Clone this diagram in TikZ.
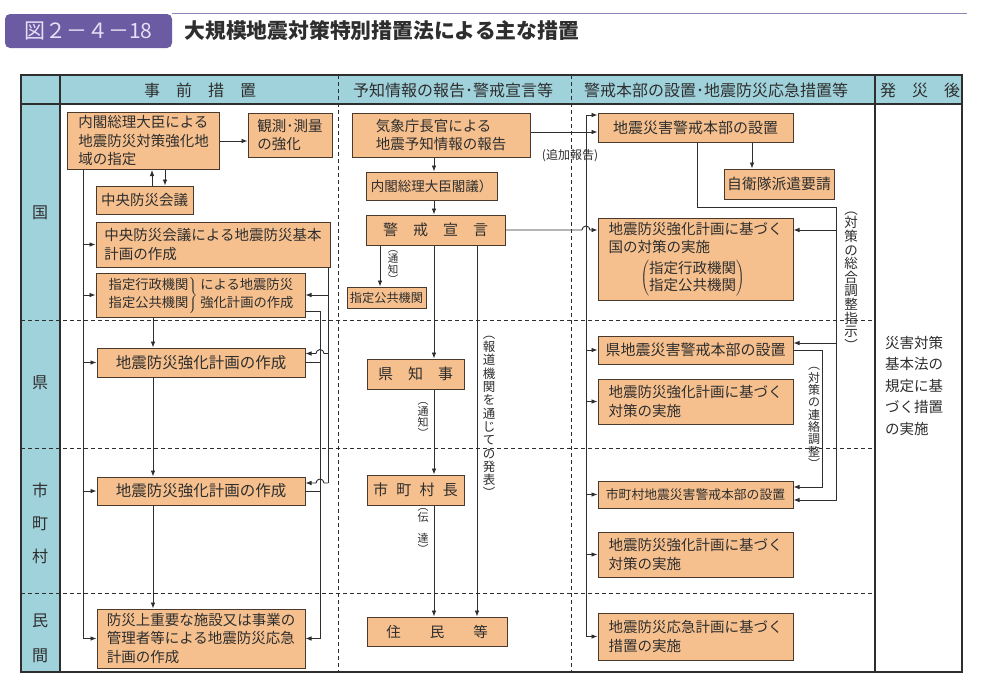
\documentclass[tikz,border=0pt]{standalone}
\usepackage{fontspec}
\setmainfont{Noto Sans CJK JP}
\usepackage{tikz}
\usetikzlibrary{
    positioning,      % relative placement
    arrows.meta,      % arrow tips
    calc              % coordinate offsets
}
\definecolor{boxfill}{HTML}{F6C08E}
\definecolor{boxline}{HTML}{4A3A2E}
\definecolor{headfill}{HTML}{A0D2DC}
\definecolor{titlefill}{HTML}{6B5BA3}
\definecolor{titletext}{HTML}{E6E0F6}
\definecolor{ink}{HTML}{2E2E2E}
\definecolor{titlerule}{HTML}{8C84B4}

\begin{document}
\begin{tikzpicture}[
        x=1pt, y=-1pt,
        box/.style={
            rectangle,
            draw=boxline,
            fill=boxfill,
            line width=1pt,
            inner sep=0pt,
            align=left,
            text=ink,
            font=\fontsize{14.5}{18.5}\selectfont
        },
        arrow/.style={
            -{Latex[length=6pt,width=4.6pt]},
            line width=0.9pt,
            draw=ink
        },
        wire/.style={
            line width=0.9pt,
            draw=ink
        },
        vlabel/.style={
            align=center,
            inner sep=0pt,
            text=ink,
            font=\fontsize{12.5}{13.3}\selectfont
        },
        headtext/.style={text=ink, font=\fontsize{16}{18}\selectfont},
        sidetext/.style={align=center, text=ink, font=\fontsize{16}{33}\selectfont},
        rowline/.style={line width=0.8pt, draw=ink, dash pattern=on 4pt off 3pt}
    ]
    \fill[white] (0,0) rectangle (997,694);
    \useasboundingbox (0,0) rectangle (997,694);

    % 表題
    \node[fill=titlefill, rounded corners=5pt, minimum width=167pt, minimum height=34pt,
        text=titletext, font=\fontsize{21}{24}\selectfont] (zuban) at (88.5,31) {図２－４－18};
    \draw[titlerule, line width=1.2pt] (zuban.north east) -- ++(795,0);
    \node[anchor=west, text=ink, font=\fontsize{20.8}{24}\selectfont\bfseries] (daimei) at (181,31)
        {大規模地震対策特別措置法による主な措置};

    % 表の枠
    \fill[headfill] (21,75) rectangle (962,104);
    \fill[headfill] (21,104) rectangle (60,672);
    \draw[rowline] (21,320) -- (875,320);
    \draw[rowline] (21,448) -- (875,448);
    \draw[rowline] (21,593) -- (875,593);
    \draw[rowline] (338,75) -- (338,672);
    \draw[rowline] (571,75) -- (571,672);
    \draw[wire, line width=1.1pt] (21,104) -- (962,104);
    \draw[wire, line width=1.1pt] (60,75) -- (60,672);
    \draw[wire, line width=1.1pt] (875,75) -- (875,672);
    \draw[line width=2.6pt, draw=ink] (21,75) rectangle (962,672);

    % 見出し
    \node[headtext] (head1) at (200,90) {事　前　措　置};
    \node[headtext] (head2) at (453,90) {予知情報の報告･警戒宣言等};
    \node[headtext] (head3) at (716,90) {警戒本部の設置･地震防災応急措置等};
    \node[headtext] (head4) at (920,90) {発　災　後};

    \node[sidetext] (kunilabel) at (40,213) {国};
    \node[sidetext] (kenlabel) at (40,383) {県};
    \node[sidetext] (shilabel) at (40,523) {市\\町\\村};
    \node[sidetext, font=\fontsize{16}{35}\selectfont] (minlabel) at (40,638.5) {民\\間};

    % 事前措置
    \node[box, minimum width=152pt, minimum height=57pt] (shitei) at (143.5,141)
        {内閣総理大臣による\\地震防災対策強化地\\域の指定};
    \node[box, minimum width=84pt, minimum height=44pt] (kansoku) at (290,135) {観測･測量\\の強化};
    \node[box, minimum width=97pt, minimum height=28pt] (chuo) at (144.5,200) {中央防災会議};
    \node[box, minimum width=234pt, minimum height=45pt] (kihon) at (213,244.5)
        {中央防災会議による地震防災基本\\計画の作成};
    \node[box, minimum width=209pt, minimum height=44pt, font=\fontsize{13.3}{18}\selectfont] (kyoka) at (200.5,295)
        {$\left.\begin{tabular}{@{}l@{}}指定行政機関\\指定公共機関\end{tabular}\right\}$\hspace{3pt}\begin{tabular}{@{}l@{}}による地震防災\\強化計画の作成\end{tabular}};
    \node[box, minimum width=208pt, minimum height=29pt, align=center, font=\fontsize{15.5}{18}\selectfont] (kenplan) at (201,362.5)
        {地震防災強化計画の作成};
    \node[box, minimum width=208pt, minimum height=28pt, align=center, font=\fontsize{15.5}{18}\selectfont] (shiplan) at (201,491)
        {地震防災強化計画の作成};
    \node[box, minimum width=208pt, minimum height=59pt] (minplan) at (201,638.5)
        {防災上重要な施設又は事業の\\管理者等による地震防災応急\\計画の作成};

    % 予知情報の報告・警戒宣言
    \node[box, minimum width=178pt, minimum height=44pt] (kishocho) at (441,135) {気象庁長官による\\地震予知情報の報告};
    \node[box, minimum width=131pt, minimum height=28pt, font=\fontsize{13.5}{16}\selectfont] (kakugi) at (431.5,186) {内閣総理大臣閣議）};
    \node[box, minimum width=139pt, minimum height=30pt, font=\fontsize{15}{18}\selectfont] (keikai) at (435.5,230) {警　戒　宣　言};
    \node[box, minimum width=79pt, minimum height=21pt, font=\fontsize{12.2}{14}\selectfont] (koukyo) at (386.5,297.5) {指定公共機関};
    \node[box, minimum width=97pt, minimum height=30pt, font=\fontsize{15}{18}\selectfont] (chiji) at (415.5,374) {県　知　事};
    \node[box, minimum width=97pt, minimum height=30pt, font=\fontsize{15}{18}\selectfont] (chocho) at (415.5,490)
        {市\hspace{0.55em}町\hspace{0.55em}村\hspace{0.55em}長};
    \node[box, minimum width=140pt, minimum height=29pt] (jumin) at (437,631.5) {住　　民　　等};

    % 警戒本部・応急措置
    \node[box, minimum width=195pt, minimum height=29pt, font=\fontsize{15}{18}\selectfont] (honbu) at (695.5,127.5) {地震災害警戒本部の設置};
    \node[box, minimum width=110pt, minimum height=30pt, font=\fontsize{14.8}{18}\selectfont] (jieitai) at (779,184) {自衛隊派遣要請};
    \node[box, minimum width=195pt, minimum height=82pt] (kuni) at (695.5,259)
        {地震防災強化計画に基づく\\国の対策の実施\\[5pt]\hspace*{2.2em}{\def\arraystretch{0.88}$\left(\begin{tabular}{@{}l@{}}指定行政機関\\指定公共機関\end{tabular}\right)$}};
    \node[box, minimum width=195pt, minimum height=28pt, font=\fontsize{15}{18}\selectfont] (kenhonbu) at (695.5,350) {県地震災害警戒本部の設置};
    \node[box, minimum width=195pt, minimum height=45pt] (kenjisshi) at (695.5,401.5) {地震防災強化計画に基づく\\対策の実施};
    \node[box, minimum width=195pt, minimum height=27pt, font=\fontsize{12.8}{16}\selectfont] (shihonbu) at (695.5,494.5) {市町村地震災害警戒本部の設置};
    \node[box, minimum width=195pt, minimum height=45pt] (shijisshi) at (695.5,554.5) {地震防災強化計画に基づく\\対策の実施};
    \node[box, minimum width=195pt, minimum height=47pt] (minjisshi) at (695.5,636.5) {地震防災応急計画に基づく\\措置の実施};

    % 発災後
    \node[anchor=north west, align=left, inner sep=0pt, text=ink, font=\fontsize{14.5}{21.5}\selectfont] (hassai) at (885,336)
        {災害対策\\基本法の\\規定に基\\づく措置\\の実施};

    % 配線の位置
    \coordinate (lbus) at (83,0);
    \coordinate (lchain) at (153,0);
    \coordinate (hl) at (320,0);
    \coordinate (dl) at (328,0);
    \coordinate (spine) at (434,0);
    \coordinate (tuchi) at (380,0);
    \coordinate (hodo) at (477,0);
    \coordinate (bus) at (586,0);
    \coordinate (honbuout) at (697,0);
    \coordinate (jiei) at (752,0);
    \coordinate (renraku) at (822,0);
    \coordinate (sogo) at (836,207);

    % 事前措置の矢印
    \draw[arrow] (shitei.east) -- (shitei.east -| kansoku.west);
    \draw[arrow] ($(chuo.north)+(7.5,0)$) -- ($(chuo.north |- shitei.south)+(7.5,0)$);
    \draw[arrow] ($(chuo.north |- shitei.south)+(20.5,0)$) -- ($(chuo.north)+(20.5,0)$);
    \draw[wire] (shitei.south -| lbus) -- (lbus |- minplan.west);
    \draw[arrow] (lbus |- kihon.west) -- (kihon.west);
    \draw[arrow] (lbus |- kyoka.west) -- (kyoka.west);
    \draw[arrow] (lbus |- kenplan.west) -- (kenplan.west);
    \draw[arrow] (lbus |- shiplan.west) -- (shiplan.west);
    \draw[arrow] (lbus |- minplan.west) -- (minplan.west);
    \draw[arrow] (kyoka.south -| lchain) -- (kenplan.north -| lchain);
    \draw[arrow] (kenplan.south -| lchain) -- (shiplan.north -| lchain);
    \draw[arrow] (shiplan.south -| lchain) -- (minplan.north -| lchain);
    \draw[arrow] (kihon.south -| dl) |- (kyoka.east);
    \draw[wire] (kyoka.east -| dl) -- ($(shiplan.east -| dl)+(0,-8)$);
    \draw[arrow] ($(kenplan.east -| dl)+(0,-9)$) -- ($(kenplan.east -| hl)+(4,-9)$)
        arc[start angle=0, end angle=180, radius=4pt] -- ($(kenplan.east)+(0,-9)$);
    \draw[arrow] ($(shiplan.east -| dl)+(0,-8)$) -- ($(shiplan.east -| hl)+(4,-8)$)
        arc[start angle=0, end angle=180, radius=4pt] -- ($(shiplan.east)+(0,-8)$);
    \draw[arrow] ($(kyoka.east)+(0,16)$) -| (hl |- minplan.east) -- (minplan.east);
    \draw[wire] (kenplan.east) -- (kenplan.east -| hl);
    \draw[wire] (shiplan.east) -- (shiplan.east -| hl);

    % 予知情報・警戒宣言の矢印
    \draw[arrow] (kishocho.south -| spine) -- (kakugi.north -| spine);
    \draw[arrow] (kakugi.south -| spine) -- (keikai.north -| spine);
    \draw[arrow] (keikai.south -| spine) -- (chiji.north -| spine);
    \draw[arrow] (chiji.south -| spine) -- (chocho.north -| spine);
    \draw[arrow] (chocho.south -| spine) -- (jumin.north -| spine);
    \draw[arrow] (keikai.south -| tuchi) -- (koukyo.north -| tuchi);
    \draw[arrow] (keikai.south -| hodo) -- (jumin.north -| hodo);
    \draw[arrow] ($(kishocho.east)+(0,-3)$) -- ($(kishocho.east -| honbu.west)+(0,-3)$);
    \draw[arrow] (keikai.east) -- ($(keikai.east -| bus)+(-4,0)$)
        arc[start angle=180, end angle=0, radius=4pt] -- (keikai.east -| kuni.west);

    % 警戒本部の矢印
    \draw[arrow] (bus |- minjisshi.west) -- ($(bus |- honbu.west)+(0,-12.5)$) -- ($(honbu.west)+(0,-12.5)$);
    \draw[arrow] (bus |- kenhonbu.west) -- (kenhonbu.west);
    \draw[arrow] (bus |- kenjisshi.west) -- (kenjisshi.west);
    \draw[arrow] (bus |- shihonbu.west) -- (shihonbu.west);
    \draw[arrow] (bus |- shijisshi.west) -- (shijisshi.west);
    \draw[arrow] (bus |- minjisshi.west) -- (minjisshi.west);
    \draw[arrow] (honbu.south -| jiei) -- (jieitai.north -| jiei);
    \draw[arrow] (honbu.south -| honbuout) |- (sogo) |- ($(shihonbu.east)+(0,5.5)$);
    \draw[arrow] ($(kuni.east -| sogo)+(0,-29)$) -- ($(kuni.east)+(0,-29)$);
    \draw[arrow] ($(kenhonbu.east -| sogo)+(0,-7)$) -- ($(kenhonbu.east)+(0,-7)$);
    \draw[arrow] (kenhonbu.east) -| ($(shihonbu.east -| renraku)+(0,-7.5)$) -- ($(shihonbu.east)+(0,-7.5)$);

    % 矢印の注記
    \node[text=ink, inner sep=0pt, font=\fontsize{12}{14}\selectfont] (tsuika) at (570,156) {(追加報告)};
    \node[vlabel, font=\fontsize{10.5}{10.5}\selectfont] (tsuchi1) at (393,267) {︵\\通\\知\\︶};
    \node[vlabel, font=\fontsize{11}{11}\selectfont] (tsuchi2) at (423,420) {︵\\通\\知\\︶};
    \node[vlabel, font=\fontsize{11}{11}\selectfont] (dentatsu) at (423,531) {︵\\伝\\[10pt]達\\︶};
    \node[vlabel] (happyo) at (489,417) {︵\\報\\道\\機\\関\\を\\通\\じ\\て\\の\\発\\表\\︶};
    \node[vlabel, font=\fontsize{13.5}{13.6}\selectfont] (sogolabel) at (851,281) {︵\\対\\策\\の\\総\\合\\調\\整\\指\\示\\︶};
    \node[vlabel, font=\fontsize{12}{12.3}\selectfont] (renrakulabel) at (814,418) {︵\\対\\策\\の\\連\\絡\\調\\整\\︶};
\end{tikzpicture}
\end{document}
